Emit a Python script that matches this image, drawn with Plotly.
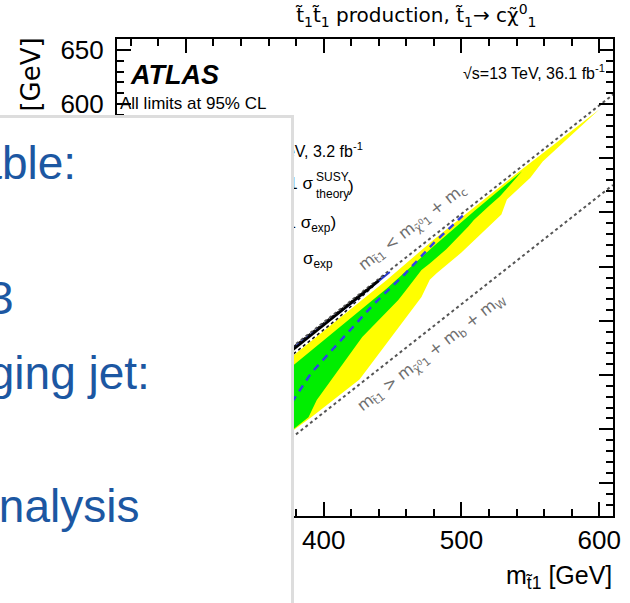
import plotly.graph_objects as go

# ---------------- exclusion contours: (m_stop, m_neutralino) in GeV ----------------
yellow_upper_stop = [300, 340, 378, 410, 446, 480, 540, 600]
yellow_upper_lsp = [283, 328, 368, 401, 438, 475, 536, 595]
yellow_lower_stop = [600, 559, 550, 533, 529, 515, 500, 482, 477, 471, 426, 391, 378, 340, 300]
yellow_lower_lsp = [595, 547, 532, 512, 498, 481, 463, 444, 438, 422, 346, 311, 299, 258, 220]

green_upper_stop = [300, 340, 378, 410, 446, 480, 510, 544]
green_upper_lsp = [272, 318, 359, 392, 430, 469, 502, 538]
green_lower_stop = [544, 528, 520, 509, 505, 489, 477, 471, 459, 454, 428, 395, 389, 378, 340, 302]
green_lower_lsp = [538, 515, 506, 493, 487, 466, 453, 447, 427, 419, 385, 327, 311, 300, 259, 220]

expected_stop = [320, 350, 378, 391, 436, 458, 480, 501]
expected_lsp = [245, 285, 327, 352, 415, 442, 472, 497]

observed_stop = [300, 340, 378, 410, 440]
observed_lsp = [294, 335, 374, 406, 437]
theory_up_stop = [300, 340, 378, 410, 444]
theory_up_lsp = [297, 337, 376, 408, 442]
theory_down_stop = [300, 340, 378, 410, 436]
theory_down_lsp = [290, 331, 370, 402, 432]

prev_stop = [300, 340, 378, 420, 448]
prev_lsp = [296, 337, 375, 416, 445]

# kinematic boundaries
kin_c_stop = [250, 610]
kin_c_lsp = [248.7, 608.7]
kin_bw_stop = [304.6, 610]
kin_bw_lsp = [220, 525.4]

x_range = [250, 610]
y_range = [220, 660]

# ---------------- geometry helpers (pixel -> paper) ----------------
W, H = 630, 603
ML, MR, MT, MB = 117, 9, 39, 87
PW = W - ML - MR
PH = H - MT - MB


def fx(p):
    return (p - ML) / PW


def fy(p):
    return (H - MB - p) / PH


FONT = "Liberation Sans"
GREEK = "DejaVu Sans"

fig = go.Figure()

fig.add_trace(go.Scatter(
    x=yellow_upper_stop + yellow_lower_stop, y=yellow_upper_lsp + yellow_lower_lsp,
    fill="toself", fillcolor="#ffff00", line=dict(width=0), mode="lines",
    hoverinfo="skip", showlegend=False))
fig.add_trace(go.Scatter(
    x=green_upper_stop + green_lower_stop, y=green_upper_lsp + green_lower_lsp,
    fill="toself", fillcolor="#00ee00", line=dict(width=0), mode="lines",
    hoverinfo="skip", showlegend=False))

for xs, ys in [(kin_c_stop, kin_c_lsp), (kin_bw_stop, kin_bw_lsp)]:
    fig.add_trace(go.Scatter(x=xs, y=ys, mode="lines",
                             line=dict(color="#555555", width=2, dash="dot"),
                             hoverinfo="skip", showlegend=False))

fig.add_trace(go.Scatter(x=expected_stop, y=expected_lsp, mode="lines",
                         line=dict(color="#3040e8", width=2.5, dash="7px,6px"),
                         hoverinfo="skip", showlegend=False))
fig.add_trace(go.Scatter(x=prev_stop, y=prev_lsp, mode="lines",
                         line=dict(color="#2a3ad0", width=2),
                         hoverinfo="skip", showlegend=False))
for xs, ys in [(theory_up_stop, theory_up_lsp), (theory_down_stop, theory_down_lsp)]:
    fig.add_trace(go.Scatter(x=xs, y=ys, mode="lines",
                             line=dict(color="#111111", width=1.5, dash="dot"),
                             hoverinfo="skip", showlegend=False))
fig.add_trace(go.Scatter(x=observed_stop, y=observed_lsp, mode="lines",
                         line=dict(color="#000000", width=2.5),
                         hoverinfo="skip", showlegend=False))

angle = -37.75
ann = []


def text(t, x, y, size=17, color="black", xa="left", ya="middle", ang=0, family=FONT):
    ann.append(dict(text=t, x=fx(x), y=fy(y), xref="paper", yref="paper",
                    xanchor=xa, yanchor=ya, showarrow=False, textangle=ang,
                    borderpad=0, font=dict(family=family, size=size, color=color)))


# plot labels
text("t̃<sub>1</sub>t̃<sub>1</sub> production, t̃<sub>1</sub>→ cχ̃<sup>0</sup><sub>1</sub>",
     421, 16, size=20, xa="center", family=GREEK)
text("<b><i>ATLAS</i></b>", 129, 75, size=27)
text("√s=13 TeV, 36.1 fb<sup>-1</sup>", 614, 72, size=16, xa="right")
text("All limits at 95% CL", 119, 103, size=17)

# legend
text("ATLAS 13 TeV, 3.2 fb<sup>-1</sup>", 368, 150, size=16, xa="right")
text("Observed limit (±1 σ", 318, 183, size=17, xa="right")
text("SUSY", 318, 177, size=12)
text("theory", 318, 194, size=12)
text(")", 351, 186, size=17)
text("Expected limit (±1 σ<sub>exp</sub>)", 341, 224, size=17, xa="right")
text("±2&nbsp;&nbsp;&nbsp;σ<sub>exp</sub>", 337, 260, size=17, xa="right")

# kinematic boundary labels
text("m<sub>t̃1</sub> < m<sub>χ̃<sup>0</sup>1</sub> + m<sub>c</sub>", 417, 227, size=16,
     color="#6e6e6e", xa="center", ang=angle, family=GREEK)
text("m<sub>t̃1</sub> > m<sub>χ̃<sup>0</sup>1</sub> + m<sub>b</sub> + m<sub>W</sub>", 437, 353,
     size=16, color="#6e6e6e", xa="center", ang=angle, family=GREEK)

# axis titles
text("m<sub>t̃1</sub> [GeV]", 621, 577, size=25, xa="right")
text("m<sub>χ̃<sup>0</sup>1</sub> [GeV]", 31, 36, size=26, xa="center", ya="top", ang=-90,
     family=GREEK)

# overlaid slide panel
ann.append(dict(text=" ", x=fx(297), y=fy(115), xref="paper", yref="paper",
                xanchor="right", yanchor="top", showarrow=False, width=700, height=700,
                bgcolor="white", bordercolor="#dddddd", borderwidth=3, borderpad=0))

BLUE = "#1c57a2"
text("Most sensitive variable:", 76, 163, size=46, color=BLUE, xa="right")
text("Number of jets ≤ 3", 13, 298, size=46, color=BLUE, xa="right")
text("Leading c-tagging jet:", 152, 373, size=46, color=BLUE, xa="right")
text("Cut-and-count analysis", 140, 506, size=46, color=BLUE, xa="right")

axis_common = dict(showgrid=False, zeroline=False, showline=True, linecolor="black",
                   linewidth=2, mirror="ticks", ticks="inside", ticklen=14,
                   tickwidth=1.5, tickcolor="black",
                   tickfont=dict(family=FONT, size=26, color="black"))

fig.update_layout(
    width=W, height=H,
    margin=dict(l=ML, r=MR, t=MT, b=MB, pad=0),
    paper_bgcolor="white", plot_bgcolor="white",
    xaxis=dict(range=x_range, tick0=0, dtick=100, ticklabelstandoff=0,
               minor=dict(dtick=20, ticklen=7, ticks="inside", tickcolor="black", tickwidth=1.5),
               **axis_common),
    yaxis=dict(range=y_range, tick0=0, dtick=50, ticklabelstandoff=6,
               minor=dict(dtick=10, ticklen=7, ticks="inside", tickcolor="black", tickwidth=1.5),
               **axis_common),
    annotations=ann,
    showlegend=False,
)

fig.write_html("out.html")
